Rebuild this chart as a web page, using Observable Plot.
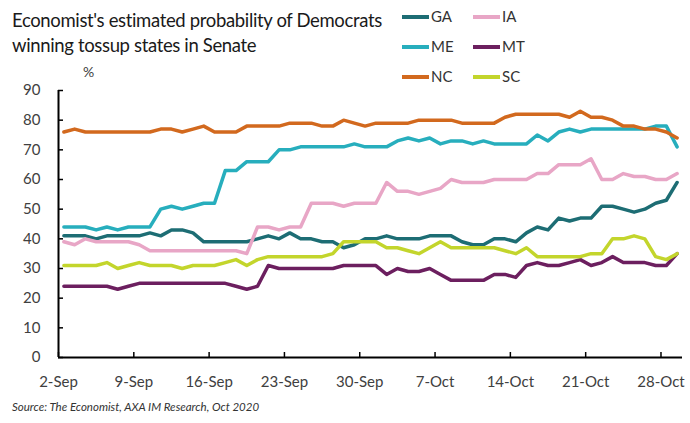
<!DOCTYPE html>
<html><head><meta charset="utf-8">
<script src="https://cdn.jsdelivr.net/npm/d3@7"></script>
<script src="https://cdn.jsdelivr.net/npm/@observablehq/plot@0.6"></script>
<style>
body{margin:0;background:#fff;}
#wrap{position:relative;width:690px;height:423px;font-family:Lato, "Open Sans", sans-serif;overflow:hidden;}
#title{position:absolute;left:12px;top:8px;font-size:18.5px;line-height:25px;color:#1a1a1a;letter-spacing:-0.35px;white-space:nowrap;}
#pct{position:absolute;left:83px;top:63px;font-size:14px;color:#404040;}
#legend{position:absolute;left:402px;top:6px;width:140px;}
.item{position:absolute;font-size:15px;color:#333;white-space:nowrap;height:20px;line-height:20px;}
.sw{display:inline-block;width:27px;height:3.5px;vertical-align:middle;margin-right:2px;position:relative;top:-1px;}
#source{position:absolute;left:12px;top:400px;font-size:11.5px;font-style:italic;color:#333;}
#chart{position:absolute;left:0;top:0;}
</style>
</head><body>
<div id="wrap">
  <div id="chart"></div>
  <div id="title">Economist's estimated probability of Democrats<br>winning tossup states in Senate</div>
  <div id="pct">%</div>
  <div id="legend"></div>
  <div id="source">Source: The Economist, AXA IM Research, Oct 2020</div>
</div>
<script>
// ---- data ----
const startDate = new Date(Date.UTC(2020, 8, 2));   // 2-Sep-2020
const endDate = new Date(Date.UTC(2020, 9, 30));    // axis end (after 29-Oct)
const states = ["GA", "IA", "ME", "MT", "NC", "SC"];
const colors = ["#1d6d74", "#e8a6c6", "#27aebd", "#6c1f5f", "#d2691e", "#c3d52c"];

const GA = [41,41,41,40,41,41,41,41,42,41,43,43,42,39,39,39,39,39,40,41,40,42,40,40,39,39,37,38,40,40,41,40,40,40,41,41,41,39,38,38,40,40,39,42,44,43,47,46,47,47,51,51,50,49,50,52,53,59];
const IA = [39,38,40,39,39,39,39,38,36,36,36,36,36,36,36,36,36,35,44,44,43,44,44,52,52,52,51,52,52,52,59,56,56,55,56,57,60,59,59,59,60,60,60,60,62,62,65,65,65,67,60,60,62,61,61,60,60,62];
const ME = [44,44,44,43,44,43,44,44,44,50,51,50,51,52,52,63,63,66,66,66,70,70,71,71,71,71,71,72,71,71,71,73,74,73,74,72,73,73,72,73,72,72,72,72,75,73,76,77,76,77,77,77,77,77,77,78,78,71];
const MT = [24,24,24,24,24,23,24,25,25,25,25,25,25,25,25,25,24,23,24,31,30,30,30,30,30,30,31,31,31,31,28,30,29,29,30,28,26,26,26,26,28,28,27,31,32,31,31,32,33,31,32,34,32,32,32,31,31,35];
const NC = [76,77,76,76,76,76,76,76,76,77,77,76,77,78,76,76,76,78,78,78,78,79,79,79,78,78,80,79,78,79,79,79,79,80,80,80,80,79,79,79,79,81,82,82,82,82,82,81,83,81,81,80,78,78,77,77,76,74];
const SC = [31,31,31,31,32,30,31,32,31,31,31,30,31,31,31,32,33,31,33,34,34,34,34,34,34,35,39,39,39,39,37,37,36,35,37,39,37,37,37,37,37,36,35,37,34,34,34,34,34,35,35,40,40,41,40,34,33,35];
const yTicks = [0,10,20,30,40,50,60,70,80,90];

const seriesValues = {GA, IA, ME, MT, NC, SC};
const days = d3.utcDays(startDate, d3.utcDay.offset(startDate, GA.length));
const rows = states.flatMap(s => seriesValues[s].map((v, i) => ({state: s, date: d3.utcHour.offset(days[i], 12), value: v})));
const xTicks = d3.utcDay.every(7).range ? d3.range(0, 9).map(k => d3.utcDay.offset(startDate, 7 * k)) : [];

const chart = Plot.plot({
  width: 690,
  height: 423,
  marginLeft: 58,
  marginRight: 8,
  marginTop: 90,
  marginBottom: 66,
  style: {fontFamily: "Lato, 'Open Sans', sans-serif", fontSize: "15px", color: "#404040", background: "transparent", overflow: "visible"},
  x: {type: "utc", domain: [startDate, endDate]},
  y: {domain: [0, 90]},
  color: {domain: states, range: colors},
  marks: [
    Plot.axisY({ticks: yTicks, tickSize: -5, tickPadding: 23, label: null, stroke: "#000", strokeWidth: 1.5, fill: "#404040"}),
    Plot.axisX({ticks: xTicks, tickSize: -5, tickPadding: 24, tickFormat: d3.utcFormat("%-d-%b"), label: null, stroke: "#000", strokeWidth: 1.5, fill: "#404040"}),
    Plot.line(rows, {x: "date", y: "value", z: "state", stroke: "state", strokeWidth: 3.5, strokeLinejoin: "round"}),
    Plot.ruleX([startDate], {y1: 0, y2: 90, stroke: "#000", strokeWidth: 2}),
    Plot.ruleY([0], {x1: startDate, x2: endDate, stroke: "#000", strokeWidth: 2})
  ]
});
document.getElementById("chart").appendChild(chart);

// legend
const legendPos = [[0,0],[71,0],[0,30],[71,30],[0,60],[71,60]];
const legend = document.getElementById("legend");
states.forEach((s, i) => {
  const it = document.createElement("div");
  it.className = "item";
  it.style.left = legendPos[i][0] + "px";
  it.style.top = legendPos[i][1] + "px";
  it.innerHTML = `<span class="sw" style="background:${colors[i]}"></span>${s}`;
  legend.appendChild(it);
});
</script>
</body></html>
